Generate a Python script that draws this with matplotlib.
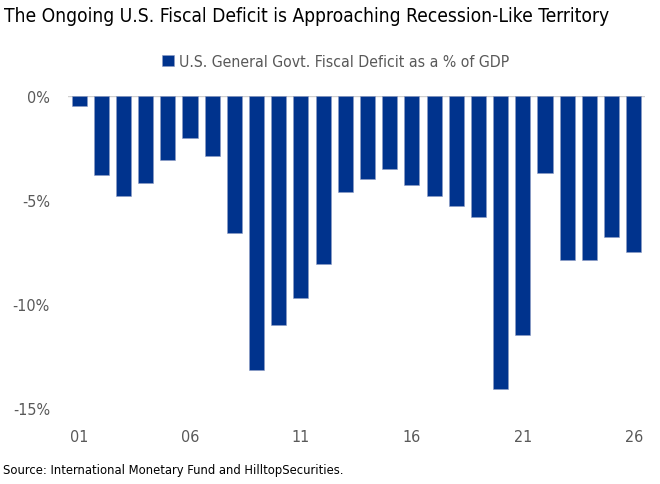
import matplotlib

matplotlib.use("Agg")
import matplotlib.pyplot as plt
from matplotlib.ticker import FuncFormatter

plt.rcParams["font.family"] = ["DejaVu Sans"]
plt.rcParams["font.stretch"] = "condensed"

# datos: déficit fiscal del gobierno general de EE.UU. (% del PIB), 2001-2026
years = list(range(2001, 2027))
deficit = [-0.5, -3.8, -4.8, -4.2, -3.1, -2.0, -2.9, -6.6, -13.2, -11.0,
           -9.7, -8.1, -4.6, -4.0, -3.5, -4.3, -4.8, -5.3, -5.8, -14.1,
           -11.5, -3.7, -7.9, -7.9, -6.8, -7.5]
tick_years = [2001, 2006, 2011, 2016, 2021, 2026]
tick_labels = ["01", "06", "11", "16", "21", "26"]
y_ticks = [0, -5, -10, -15]

BLUE = "#00338d"
GRAY = "#595959"

fig = plt.figure(figsize=(6.6, 4.85), dpi=100)
ax = fig.add_axes([0.103, 0.157, 0.874, 0.643])

ax.bar(years, deficit, width=0.68, color=BLUE, edgecolor="#8e9cc4", linewidth=0.4,
       label="U.S. General Govt. Fiscal Deficit as a % of GDP", zorder=2)
ax.axhline(0, color="#d0d0d0", lw=1.0, zorder=1)

ax.set_xlim(2000.5, 2026.5)
ax.set_ylim(-15, 0)
ax.set_yticks(y_ticks)
ax.yaxis.set_major_formatter(FuncFormatter(lambda v, _: f"{v:.0f}%"))
ax.set_xticks(tick_years)
ax.set_xticklabels(tick_labels)
ax.tick_params(axis="both", length=0, labelcolor=GRAY, labelsize=11.5)
ax.tick_params(axis="y", pad=13)
ax.tick_params(axis="x", pad=15)
for s in ax.spines.values():
    s.set_visible(False)

fig.text(0.006, 0.967, "The Ongoing U.S. Fiscal Deficit is Approaching Recession-Like Territory",
         fontsize=13.8, color="black", ha="left", va="center")
fig.legend(loc="center", bbox_to_anchor=(0.509, 0.871), frameon=False, fontsize=11.3,
           labelcolor=GRAY, handlelength=0.75, handleheight=0.75, handletextpad=0.35)
fig.text(0.004, 0.029, "Source: International Monetary Fund and HilltopSecurities.",
         fontsize=9.3, color="black", ha="left", va="center")

fig.savefig("out.png", dpi=100)
